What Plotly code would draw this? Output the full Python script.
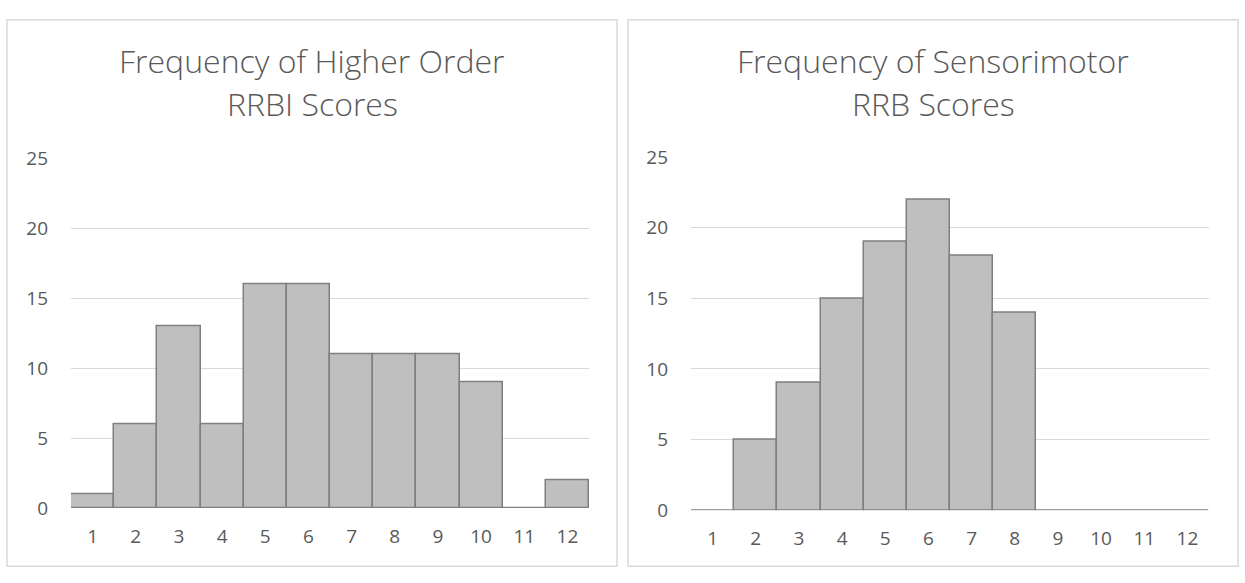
import plotly.graph_objects as go

W, H = 1245, 583

scores = list(range(1, 13))
higher_order_counts = [1, 6, 13, 6, 16, 16, 11, 11, 11, 9, 0, 2]
sensorimotor_counts = [0, 5, 9, 15, 19, 22, 18, 14, 0, 0, 0, 0]
titles_left = ["Frequency of Higher Order", "RRBI Scores"]
titles_right = ["Frequency of Sensorimotor", "RRB Scores"]
y_ticks = [0, 5, 10, 15, 20, 25]

TEXT = "#595959"
GRID = "#D9D9D9"
FONT = "Open Sans"

def px_x(v):
    return v / W

def px_y(v):
    return 1 - v / H

fig = go.Figure()
fig.add_trace(go.Bar(x=scores, y=higher_order_counts, xaxis="x", yaxis="y",
                     marker=dict(color="#BFBFBF", line=dict(color="#7F7F7F", width=1.5)),
                     hoverinfo="x+y", showlegend=False))
fig.add_trace(go.Bar(x=scores, y=sensorimotor_counts, xaxis="x2", yaxis="y2",
                     marker=dict(color="#BFBFBF", line=dict(color="#7F7F7F", width=1.5)),
                     hoverinfo="x+y", showlegend=False))

xcommon = dict(range=[0.5, 12.5], tickvals=scores, ticktext=[str(s) for s in scores],
               showgrid=False, zeroline=False, showline=False, ticks="",
               ticklabelstandoff=15, tickfont=dict(family=FONT, size=19, color=TEXT),
               fixedrange=True)
ycommon = dict(range=[0, 25.02], tickvals=y_ticks, showgrid=True, gridcolor=GRID, gridwidth=1.3,
               zeroline=False, showline=False, ticks="", ticklabelstandoff=22,
               tickfont=dict(family=FONT, size=19, color=TEXT), fixedrange=True)

fig.update_layout(
    width=W, height=H,
    margin=dict(l=0, r=0, t=0, b=0),
    paper_bgcolor="white", plot_bgcolor="white",
    bargap=0,
    xaxis=dict(domain=[px_x(71), px_x(589)], anchor="y", **xcommon),
    yaxis=dict(domain=[px_y(518), px_y(152)], anchor="x", **ycommon),
    xaxis2=dict(domain=[px_x(691), px_x(1209)], anchor="y2", **xcommon),
    yaxis2=dict(domain=[px_y(520.5), px_y(150.5)], anchor="x2", **ycommon),
    shapes=[
        dict(type="rect", xref="paper", yref="paper", x0=px_x(7), x1=px_x(617),
             y0=px_y(579), y1=px_y(7), line=dict(color=GRID, width=1.5), layer="below"),
        dict(type="rect", xref="paper", yref="paper", x0=px_x(628), x1=px_x(1238),
             y0=px_y(579), y1=px_y(7), line=dict(color=GRID, width=1.5), layer="below"),
    ],
)

annotations = []
for cx, lines in ((312, titles_left), (933, titles_right)):
    for i, line in enumerate(lines):
        annotations.append(dict(text=line, xref="paper", yref="paper",
                                x=px_x(cx), y=px_y(50 + 45 * i), xanchor="center", yanchor="middle",
                                showarrow=False,
                                font=dict(family=FONT, size=32, color=TEXT, weight=300)))
fig.update_layout(annotations=annotations)

post = ("document.body.style.margin='0';"
        "document.documentElement.style.overflow='hidden';"
        "document.body.style.overflow='hidden';")

fig.write_html("out.html", config={"displayModeBar": False}, post_script=post)
